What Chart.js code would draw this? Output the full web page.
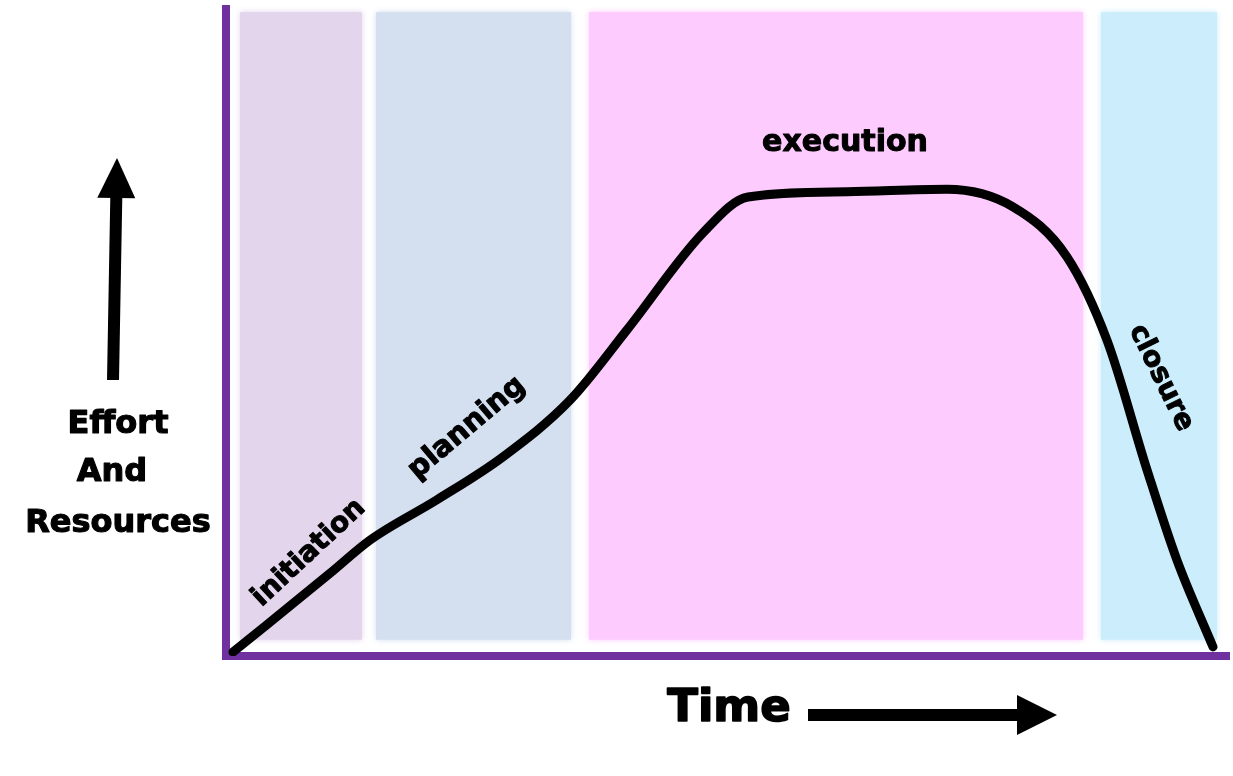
<!DOCTYPE html>
<html>
<head>
<meta charset="utf-8">
<script src="https://cdn.jsdelivr.net/npm/chart.js@4"></script>
<style>
  html, body { margin: 0; padding: 0; background: #ffffff; overflow: hidden; }
  #wrap { width: 1233px; height: 776px; position: relative; }
</style>
</head>
<body>
<div id="wrap"><canvas id="lifeCycle" width="1233" height="776"></canvas></div>
<script>
// curve: time vs effort and resources
const timeX = [0.7, 10.4, 14.4, 21.1, 27.7, 34.4, 40.1, 47.7, 52.2, 62.1, 72.1, 78.7, 84.1, 88.1, 92.1, 95.1, 98.7];
const effortY = [0.6, 12.7, 17.8, 24.0, 30.6, 39.3, 50.1, 65.0, 70.5, 71.3, 71.7, 69.0, 61.3, 48.5, 28.6, 14.7, 1.4];

// project phases
const phaseNames = ["initiation", "planning", "execution", "closure"];
const phaseStart = [1.4, 15.0, 36.3, 87.5];
const phaseEnd = [13.6, 34.5, 85.7, 99.1];
const bandTop = 98.9;
const bandBottom = 2.5;

const phaseColors = ["#E3D5EC", "#D4E0F0", "#FDCBFD", "#CCEDFB"];
const axisColor = "#7030A0";
const labelFont = "'DejaVu Sans', sans-serif";

const canvas = document.getElementById("lifeCycle");

let bgPlugin = {
    id: 'phase_bands',
    beforeDatasetsDraw: (chart) => {
        const ctx = chart.ctx;
        const xs = chart.scales.x;
        const ys = chart.scales.y;
        const a = chart.chartArea;
        ctx.save();
        for (let i = 0; i < phaseNames.length; i++) {
            const x1 = xs.getPixelForValue(phaseStart[i]);
            const x2 = xs.getPixelForValue(phaseEnd[i]);
            const y1 = ys.getPixelForValue(bandTop);
            const y2 = ys.getPixelForValue(bandBottom);
            ctx.fillStyle = phaseColors[i];
            ctx.shadowColor = phaseColors[i];
            ctx.shadowBlur = 6;
            ctx.fillRect(x1, y1, x2 - x1, y2 - y1);
        }
        ctx.shadowBlur = 0;
        // purple axes, under the curve
        ctx.fillStyle = axisColor;
        ctx.fillRect(a.left - 4, a.top, 8, a.bottom - a.top + 4);
        ctx.fillRect(a.left - 4, a.bottom - 4, a.right - a.left + 8, 8);
        ctx.restore();
    }
};

function arrow(ctx, x1, y1, x2, y2, shaft, head, headLen) {
    const ang = Math.atan2(y2 - y1, x2 - x1);
    const len = Math.hypot(x2 - x1, y2 - y1);
    ctx.save();
    ctx.translate(x1, y1);
    ctx.rotate(ang);
    ctx.fillStyle = "#000";
    ctx.fillRect(0, -shaft / 2, len - headLen + 1, shaft);
    ctx.beginPath();
    ctx.moveTo(len, 0);
    ctx.lineTo(len - headLen, -head / 2);
    ctx.lineTo(len - headLen, head / 2);
    ctx.closePath();
    ctx.fill();
    ctx.restore();
}

function rotText(ctx, txt, x, y, deg, size) {
    ctx.save();
    ctx.translate(x, y);
    ctx.rotate(deg * Math.PI / 180);
    ctx.font = "bold " + size + "px " + labelFont;
    ctx.textAlign = "center";
    ctx.textBaseline = "middle";
    ctx.fillStyle = "#000";
    ctx.strokeStyle = "#000";
    ctx.lineWidth = size / 28;
    ctx.lineJoin = "round";
    ctx.fillText(txt, 0, 0);
    ctx.strokeText(txt, 0, 0);
    ctx.restore();
}

let decoPlugin = {
    id: 'labels',
    afterDatasetsDraw: (chart) => {
        const ctx = chart.ctx;
        ctx.save();
        // phase labels
        rotText(ctx, phaseNames[0], 309, 553, -43, 28);
        rotText(ctx, phaseNames[1], 467, 428, -40, 29);
        rotText(ctx, phaseNames[2], 845, 143, 0, 30);
        rotText(ctx, phaseNames[3], 1161, 378, 64, 28);

        // axis titles
        rotText(ctx, "Effort", 118, 425, 0, 32);
        rotText(ctx, "And", 112, 473, 0, 32);
        rotText(ctx, "Resources", 118, 524, 0, 32);
        rotText(ctx, "Time", 729, 709, 0, 45);

        arrow(ctx, 113, 380, 117, 158, 12, 38, 40);
        arrow(ctx, 808, 715, 1057, 715, 12, 40, 40);
        ctx.restore();
    }
};

const points = timeX.map((t, i) => ({ x: t, y: effortY[i] }));

new Chart(canvas, {
    type: 'line',
    data: {
        datasets: [{
            label: "Effort",
            data: points,
            borderColor: '#000000',
            borderWidth: 9,
            borderCapStyle: 'round',
            borderJoinStyle: 'round',
            cubicInterpolationMode: 'monotone',
            pointRadius: 0,
            fill: false
        }]
    },
    options: {
        responsive: false,
        animation: false,
        devicePixelRatio: 1,
        layout: { padding: { left: 226, right: 7, top: 5, bottom: 120 } },
        plugins: {
            legend: { display: false },
            tooltip: { enabled: false }
        },
        scales: {
            x: { type: 'linear', min: 0, max: 100, display: false },
            y: { min: 0, max: 100, display: false }
        }
    },
    plugins: [bgPlugin, decoPlugin]
});
</script>
</body>
</html>
